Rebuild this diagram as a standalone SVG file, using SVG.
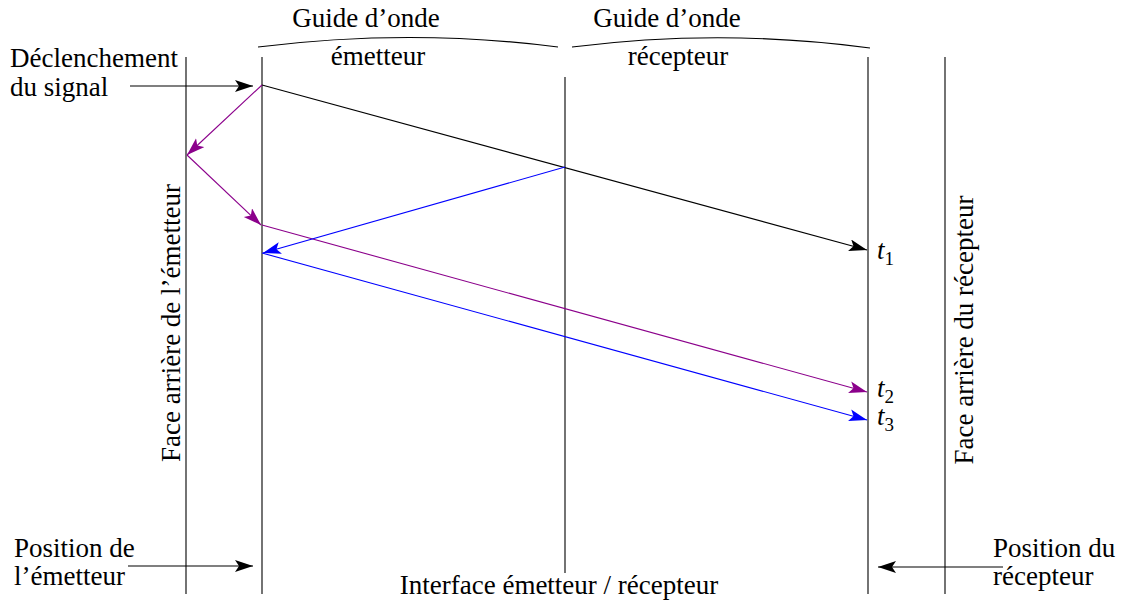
<svg xmlns="http://www.w3.org/2000/svg" width="1122" height="603" viewBox="0 0 1122 603">
<style>
text{font-family:"Liberation Serif","Times New Roman",serif;font-size:27px;fill:#000}
.v{stroke:#000;stroke-width:1.1;fill:none}
.k{stroke:#000;stroke-width:1.1;fill:none}
.p{stroke:#8b008b;stroke-width:1.1;fill:none}
.b{stroke:#0000ff;stroke-width:1.1;fill:none}
.it{font-style:italic}
.sub{font-size:19px}
</style>
<defs>
<marker id="ak" markerUnits="userSpaceOnUse" markerWidth="20" markerHeight="14" refX="18" refY="6" orient="auto"><path d="M0,0 L18,6 L0,12 L4,6 Z" fill="#000"/></marker>
<marker id="ap" markerUnits="userSpaceOnUse" markerWidth="20" markerHeight="14" refX="18" refY="6" orient="auto"><path d="M0,0 L18,6 L0,12 L4,6 Z" fill="#8b008b"/></marker>
<marker id="ab" markerUnits="userSpaceOnUse" markerWidth="20" markerHeight="14" refX="18" refY="6" orient="auto"><path d="M0,0 L18,6 L0,12 L4,6 Z" fill="#0000ff"/></marker>
</defs>
<g id="axes">
<line class="v" x1="186" y1="57" x2="186" y2="594"/>
<line class="v" x1="262" y1="57" x2="262" y2="594"/>
<line class="v" x1="565" y1="77" x2="565" y2="573"/>
<line class="v" x1="868" y1="57" x2="868" y2="594"/>
<line class="v" x1="945" y1="57" x2="945" y2="594"/>
</g>
<g id="braces">
<path class="v" d="M258,47 Q410,28 558,47"/>
<path class="v" d="M572,47 Q722,28 870,48"/>
</g>
<g id="labels">
<text x="366" y="27" text-anchor="middle">Guide d’onde</text>
<text x="378" y="65" text-anchor="middle">émetteur</text>
<text x="667" y="27" text-anchor="middle">Guide d’onde</text>
<text x="678" y="65" text-anchor="middle">récepteur</text>
<text x="10" y="67">Déclenchement</text>
<text x="10" y="96">du signal</text>
<text x="14" y="557">Position de</text>
<text x="14" y="585">l’émetteur</text>
<text x="993" y="557">Position du</text>
<text x="993" y="585">récepteur</text>
<text x="559" y="594" text-anchor="middle">Interface émetteur / récepteur</text>
<text transform="translate(180,323) rotate(-90)" text-anchor="middle">Face arrière de l’émetteur</text>
<text transform="translate(973,330) rotate(-90)" text-anchor="middle">Face arrière du récepteur</text>
<text x="877" y="259" class="it">t<tspan class="sub" dy="6" font-style="normal">1</tspan></text>
<text x="877" y="397" class="it">t<tspan class="sub" dy="6" font-style="normal">2</tspan></text>
<text x="877" y="425" class="it">t<tspan class="sub" dy="6" font-style="normal">3</tspan></text>
</g>
<g id="connectors">
<line class="k" x1="130" y1="86" x2="253" y2="86" marker-end="url(#ak)"/>
<line class="k" x1="128" y1="566" x2="253" y2="566" marker-end="url(#ak)"/>
<line class="k" x1="1003" y1="567" x2="878" y2="567" marker-end="url(#ak)"/>
<line class="k" x1="262" y1="85" x2="867" y2="250" marker-end="url(#ak)"/>
<line class="p" x1="262" y1="85" x2="187" y2="155" marker-end="url(#ap)"/>
<line class="p" x1="187" y1="155" x2="261" y2="225" marker-end="url(#ap)"/>
<line class="p" x1="262" y1="225" x2="867" y2="392" marker-end="url(#ap)"/>
<line class="b" x1="565" y1="167" x2="263" y2="253" marker-end="url(#ab)"/>
<line class="b" x1="262" y1="253" x2="867" y2="420" marker-end="url(#ab)"/>
</g>
</svg>
